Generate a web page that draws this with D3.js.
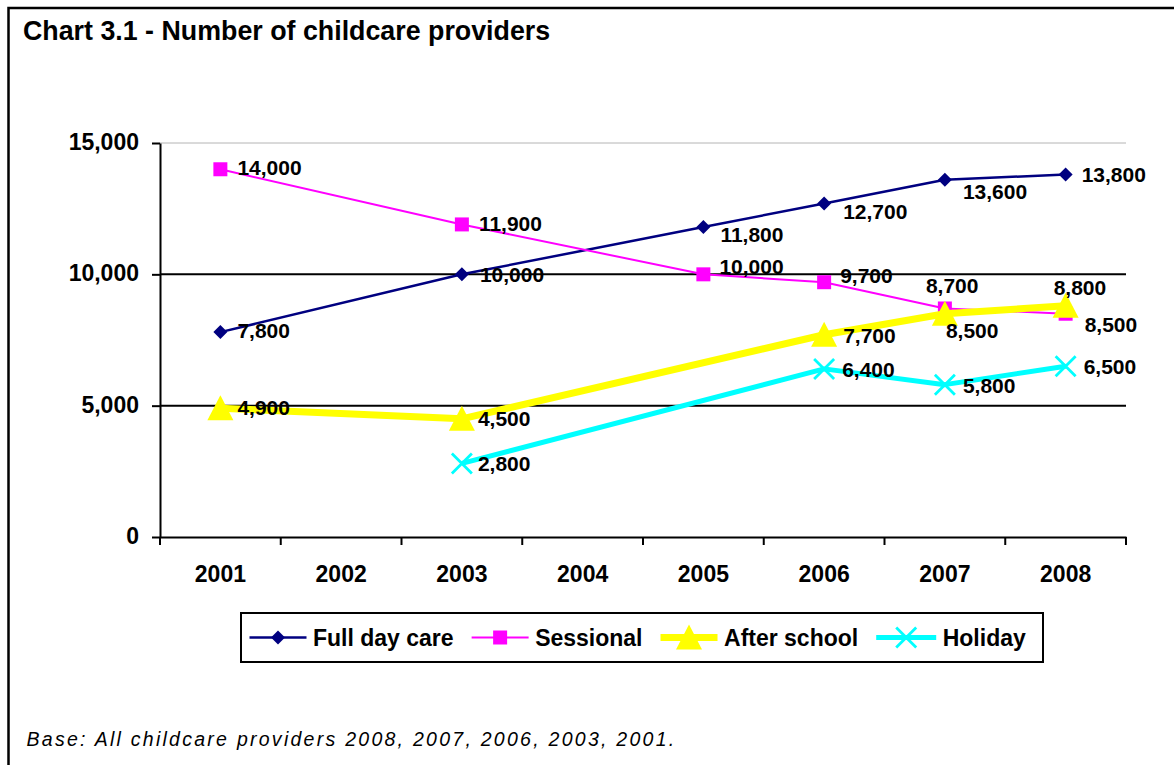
<!DOCTYPE html>
<html>
<head>
<meta charset="utf-8">
<script src="https://cdn.jsdelivr.net/npm/d3@7"></script>
<style>
  html, body { margin: 0; padding: 0; background: #fff; }
  svg { display: block; }
  text { font-family: "Liberation Sans", Arial, sans-serif; }
</style>
</head>
<body>
<svg id="chart" width="1174" height="765"></svg>
<script>
// ---------------- data ----------------
const years = ["2001", "2002", "2003", "2004", "2005", "2006", "2007", "2008"];
const fullDayCare = [7800, null, 10000, null, 11800, 12700, 13600, 13800];
const sessional   = [14000, null, 11900, null, 10000, 9700, 8700, 8500];
const afterSchool = [4900, null, 4500, null, null, 7700, 8500, 8800];
const holiday     = [null, null, 2800, null, null, 6400, 5800, 6500];
const seriesNames = ["Full day care", "Sessional", "After school", "Holiday"];
const yTicks = [0, 5000, 10000, 15000];
const titleText = "Chart 3.1 - Number of childcare providers";
const footText = "Base: All childcare providers 2008, 2007, 2006, 2003, 2001.";

// ---------------- styling / layout (not data) ----------------
const seriesStyle = [
  { color: "#000080", width: 2.5, marker: "diamond" },
  { color: "#FF00FF", width: 2,   marker: "square" },
  { color: "#FFFF00", width: 7,   marker: "triangle" },
  { color: "#00FFFF", width: 5,   marker: "cross" }
];
// label nudges [dx to text start, dy to text centre] per point
const labelNudge = [
  [[17, -1], null, [18, 0], null, [17, 8], [19, 8], [18, 12], [16, 0]],
  [[17, -2], null, [17, -1], null, [16, -8], [16, -7], [-19, -23], [19, 11]],
  [[17, -1], null, [16, 0], null, null, [19, 1], [1, 17], [-12, -18]],
  [null, null, [16, 0], null, null, [18, 1], [18, 1], [18, 0]]
];

const svg = d3.select("#chart");
const W = 1174, H = 765;
const plot = { left: 160, right: 1126, top: 143, bottom: 537 };

const x = d3.scaleBand().domain(years).range([plot.left, plot.right]).padding(0);
const y = d3.scaleLinear().domain([0, 15000]).range([plot.bottom, plot.top]);
const cx = yr => x(yr) + x.bandwidth() / 2;

// frame
svg.append("rect").attr("x", 8.5).attr("y", 8).attr("width", W + 50).attr("height", H + 50)
  .attr("fill", "#fff").attr("stroke", "#000").attr("stroke-width", 2.5);

// title
svg.append("text").attr("x", 23).attr("y", 40)
  .attr("font-size", 26.8).attr("font-weight", "bold").attr("fill", "#000")
  .text(titleText);

// gridlines
svg.append("g").selectAll("line").data(yTicks.filter(d => d > 0)).join("line")
  .attr("x1", plot.left).attr("x2", plot.right)
  .attr("y1", d => y(d)).attr("y2", d => y(d))
  .attr("stroke", d => d === 15000 ? "#b4b4b4" : "#000")
  .attr("stroke-width", d => d === 15000 ? 1 : 2);

// y axis
const yAxis = svg.append("g").attr("transform", `translate(${plot.left},0)`)
  .call(d3.axisLeft(y).tickValues(yTicks).tickSize(8).tickSizeOuter(0).tickPadding(13)
    .tickFormat(d3.format(",")));
yAxis.select(".domain").attr("stroke", "#000").attr("stroke-width", 2);
yAxis.selectAll(".tick line").attr("stroke", "#000").attr("stroke-width", 2);
yAxis.selectAll(".tick text").attr("font-size", 23).attr("font-weight", "bold")
  .attr("fill", "#000").attr("font-family", "Liberation Sans, Arial, sans-serif").attr("dy", "0.28em");

// x axis
const xAxis = svg.append("g").attr("transform", `translate(0,${plot.bottom})`)
  .call(d3.axisBottom(x).tickSize(0).tickSizeOuter(0).tickPadding(29));
xAxis.select(".domain").attr("stroke", "#000").attr("stroke-width", 2);
xAxis.selectAll(".tick text").attr("font-size", 23).attr("font-weight", "bold")
  .attr("fill", "#000").attr("font-family", "Liberation Sans, Arial, sans-serif");
xAxis.selectAll(".boundary").data(years.map(yr => x(yr)).concat([x.range()[1]]))
  .join("line").attr("class", "boundary")
  .attr("x1", d => d).attr("x2", d => d).attr("y1", 0).attr("y2", 8)
  .attr("stroke", "#000").attr("stroke-width", 2);

// markers
function markerPath(type) {
  switch (type) {
    case "diamond": return "M0,-7L7,0L0,7L-7,0Z";
    case "square": return "M-7,-7H7V7H-7Z";
    case "triangle": return "M0,-13L13,12L-13,12Z";
    case "cross": return "M-10,-10L10,10M-10,10L10,-10";
  }
}
function drawMarker(g, st) {
  if (st.marker === "cross") {
    g.append("path").attr("d", markerPath("cross")).attr("stroke", st.color)
      .attr("stroke-width", 2.8).attr("fill", "none");
  } else {
    g.append("path").attr("d", markerPath(st.marker)).attr("fill", st.color);
  }
}

const allSeries = [fullDayCare, sessional, afterSchool, holiday];
const line = d3.line().x(d => cx(d.year)).y(d => y(d.v));

allSeries.forEach((vals, si) => {
  const st = seriesStyle[si];
  const pts = years.map((yr, i) => ({ year: yr, v: vals[i], i })).filter(d => d.v != null);
  const g = svg.append("g");
  g.append("path").datum(pts).attr("d", line).attr("fill", "none")
    .attr("stroke", st.color).attr("stroke-width", st.width).attr("stroke-linejoin", "round");
  pts.forEach(p => {
    const mg = g.append("g").attr("transform", `translate(${cx(p.year)},${y(p.v)})`);
    drawMarker(mg, st);
  });
});

// data labels
const fmt = d3.format(",");
allSeries.forEach((vals, si) => {
  const pts = years.map((yr, i) => ({ year: yr, v: vals[i], i })).filter(d => d.v != null);
  svg.append("g").selectAll("text").data(pts).join("text")
    .attr("x", d => cx(d.year) + labelNudge[si][d.i][0])
    .attr("y", d => y(d.v) + labelNudge[si][d.i][1])
    .attr("dy", "0.35em")
    .attr("font-size", 21).attr("font-weight", "bold").attr("fill", "#000")
    .text(d => fmt(d.v));
});

// legend
const leg = svg.append("g");
const legBox = { x: 241, y: 613, w: 802, h: 49 };
leg.append("rect").attr("x", legBox.x).attr("y", legBox.y).attr("width", legBox.w).attr("height", legBox.h)
  .attr("fill", "#fff").attr("stroke", "#000").attr("stroke-width", 2);
let lx = legBox.x + 8.5;
const ly = legBox.y + legBox.h / 2;
seriesNames.forEach((name, si) => {
  const st = seriesStyle[si];
  const sampleW = si === 3 ? 60 : 57;
  leg.append("line").attr("x1", lx).attr("x2", lx + sampleW).attr("y1", ly).attr("y2", ly)
    .attr("stroke", st.color).attr("stroke-width", st.width);
  const mg = leg.append("g").attr("transform", `translate(${lx + sampleW / 2},${ly})`);
  drawMarker(mg, st);
  const t = leg.append("text").attr("x", lx + sampleW + 6.5).attr("y", ly).attr("dy", "0.35em")
    .attr("font-size", 23).attr("font-weight", "bold").attr("fill", "#000").text(name);
  lx = lx + sampleW + 6.5 + t.node().getComputedTextLength() + 18;
});

// footer (spacing fitted to the reference's text width)
const foot = svg.append("text").attr("x", 26.5).attr("y", 746)
  .attr("font-family", "DejaVu Sans, Verdana, sans-serif").attr("font-style", "italic")
  .attr("font-size", 19.5).attr("fill", "#000")
  .text(footText);
const footTarget = 650;
const natural = foot.node().getComputedTextLength();
foot.attr("letter-spacing", Math.max(0, (footTarget - natural) / footText.length));
</script>
</body>
</html>
